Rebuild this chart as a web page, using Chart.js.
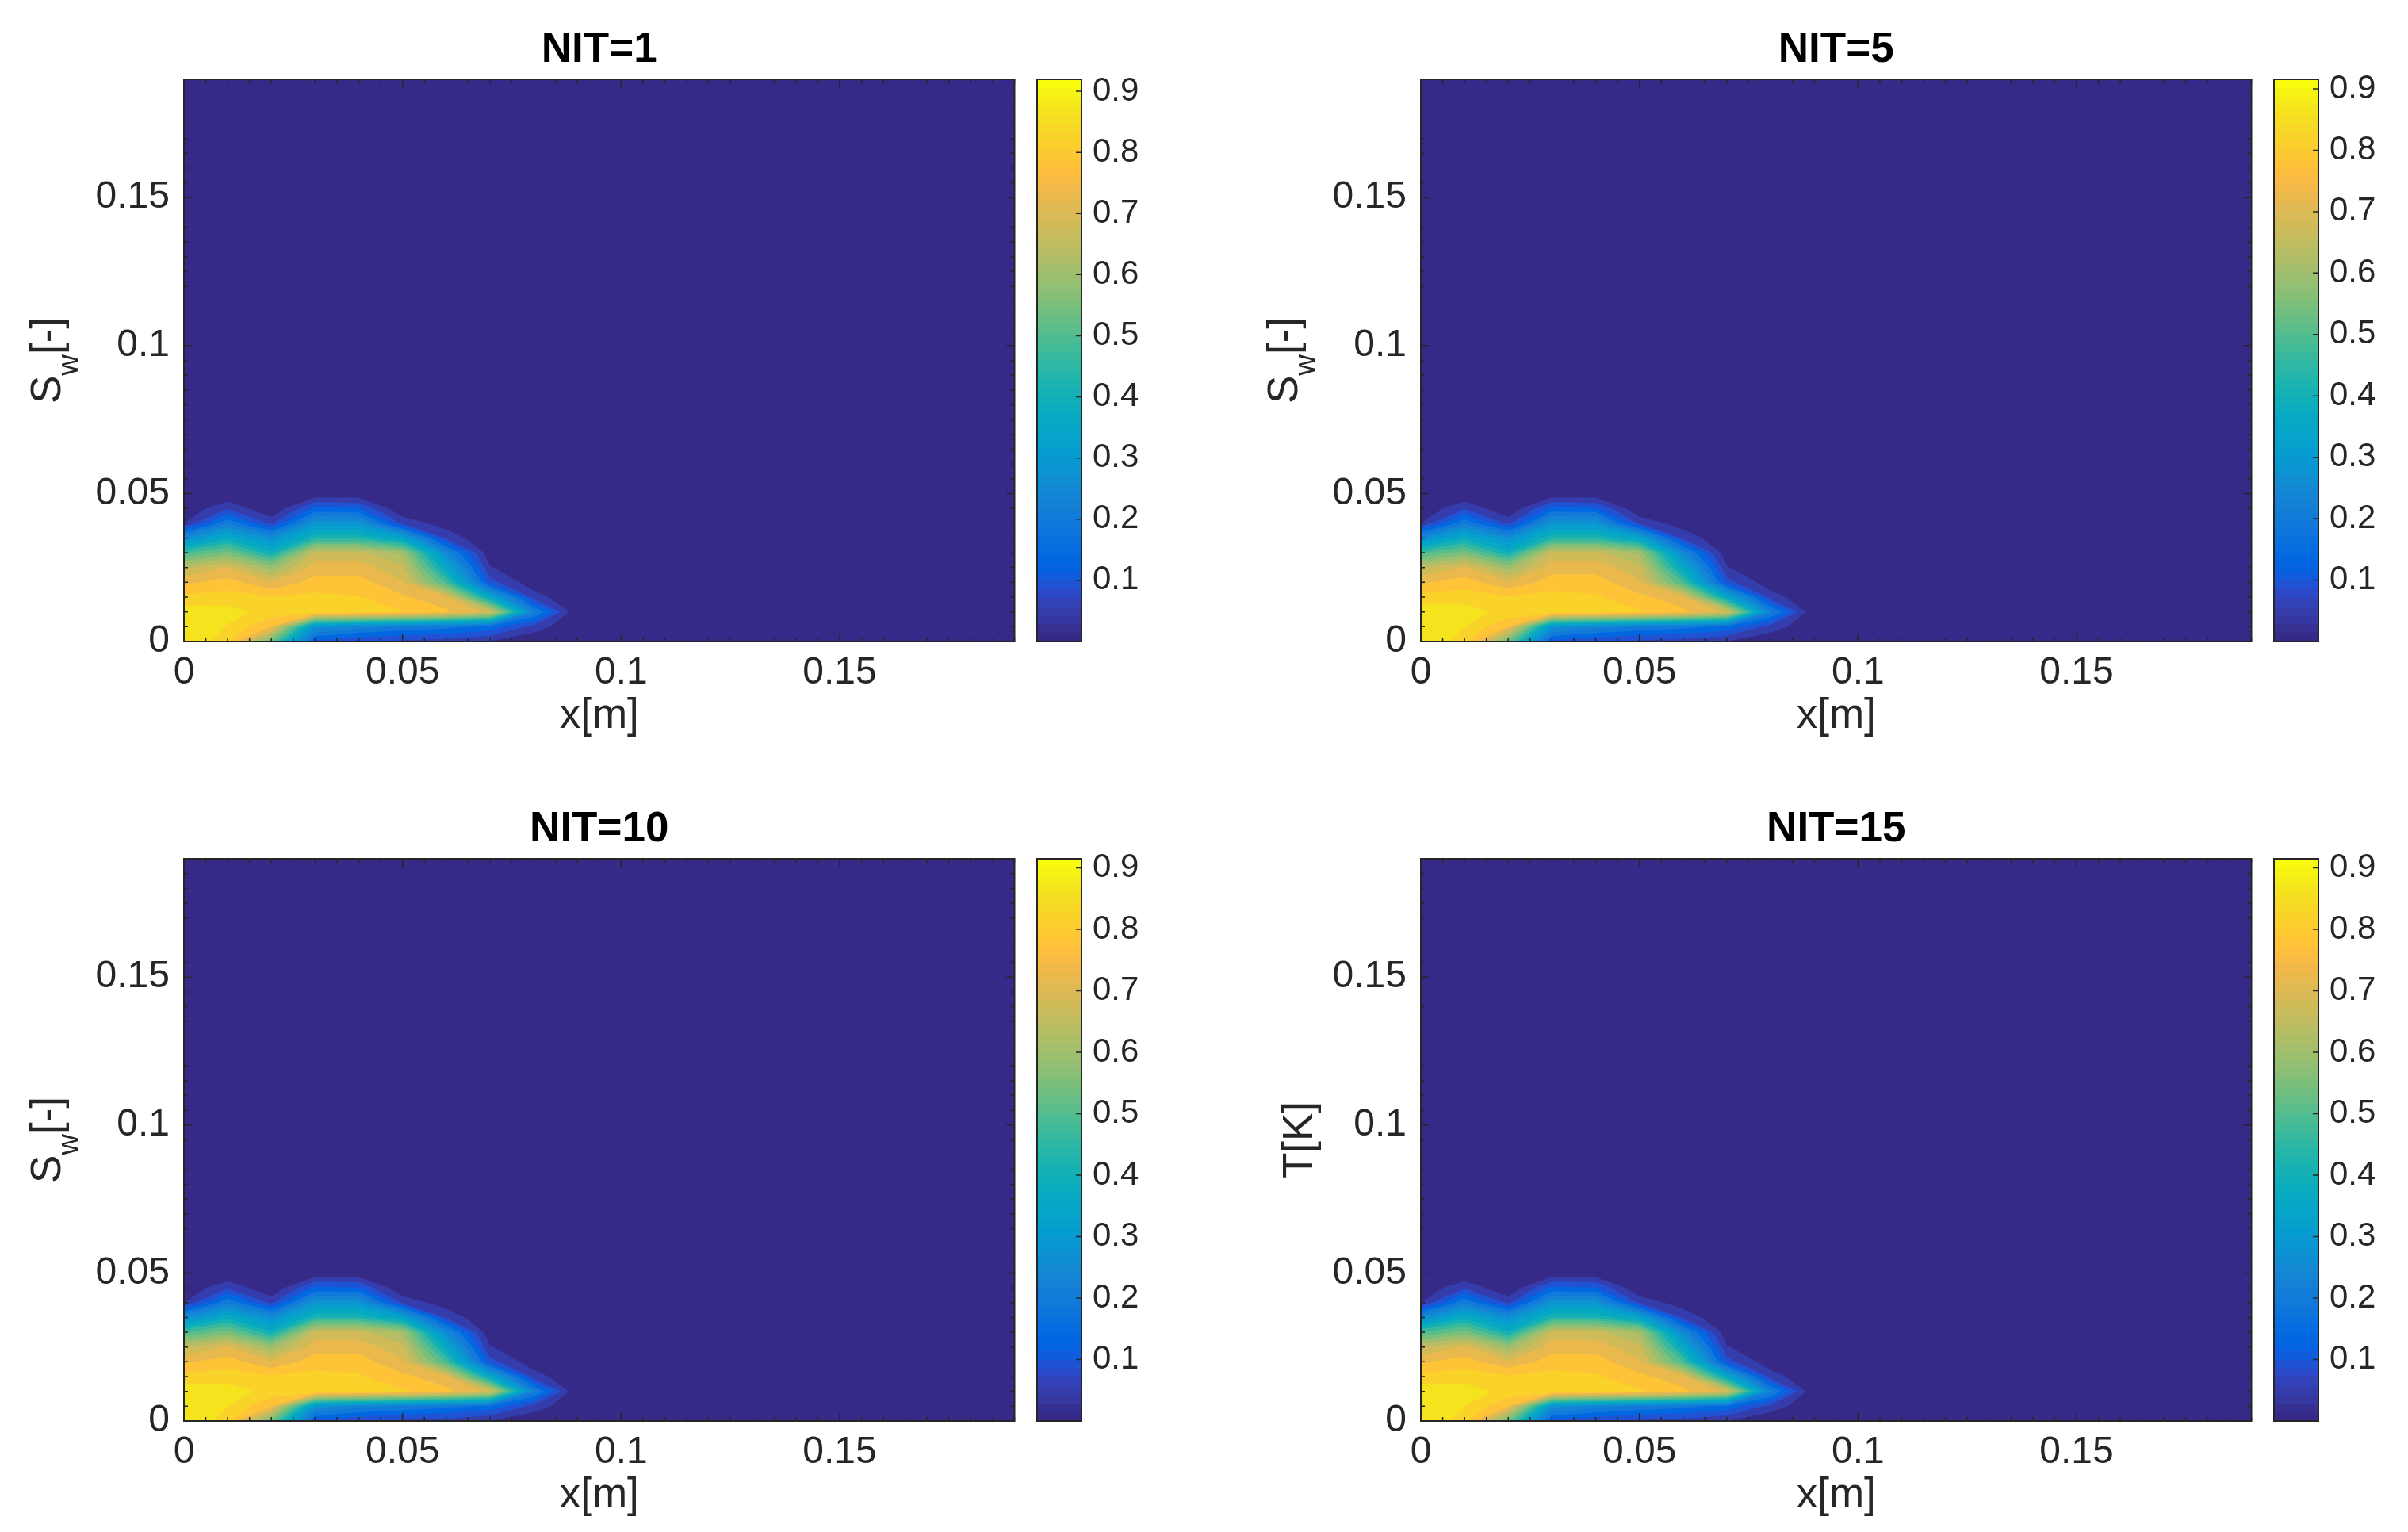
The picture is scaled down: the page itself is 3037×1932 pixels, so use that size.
<!DOCTYPE html>
<html><head><meta charset="utf-8">
<style>
html,body{margin:0;padding:0;background:#fff;width:3037px;height:1932px;overflow:hidden}
canvas{position:absolute;display:block;filter:blur(0.6px)}
</style>
<script src="https://cdn.jsdelivr.net/npm/chart.js@4/dist/chart.umd.min.js"></script>
</head><body>
<script>
// ---- data ----
const panelTitles = ['NIT=1','NIT=5','NIT=10','NIT=15'];
const xAxisTitle = 'x[m]';
const yAxisTitles = [
  [['S',0],['w',1],['[-]',0]],
  [['S',0],['w',1],['[-]',0]],
  [['S',0],['w',1],['[-]',0]],
  [['T[K]',0]]
];
const axisMax = 0.19;
const majorTicks = [0,0.05,0.1,0.15];
const majorTickLabels = ['0','0.05','0.1','0.15'];
const colorbarTicks = [0.1,0.2,0.3,0.4,0.5,0.6,0.7,0.8,0.9];
const colorbarTickLabels = ['0.1','0.2','0.3','0.4','0.5','0.6','0.7','0.8','0.9'];
const zMin = 0, panelZMax = [0.9195,0.9155,0.915,0.915], contourIntervals = 20;
const xNodes = [0,0.01,0.02,0.03,0.04,0.05,0.06,0.07,0.08,0.09,0.19];
const yNodes = [0,0.005,0.01,0.015,0.02,0.025,0.03,0.035,0.04,0.045,0.05,0.19];
const saturation = [
 [.918,.845,.55,.12,.09,.08,.07,.045,.004,0,0],
 [.915,.87,.78,.30,.25,.22,.20,.17,.075,0,0],
 [.90,.89,.855,.86,.85,.83,.79,.72,.24,0,0],
 [.84,.85,.83,.84,.83,.79,.75,.38,.07,0,0],
 [.77,.80,.74,.80,.80,.74,.50,.11,.015,0,0],
 [.68,.74,.62,.76,.76,.70,.38,.05,0,0,0],
 [.50,.57,.42,.70,.70,.63,.26,.01,0,0,0],
 [.27,.40,.28,.45,.45,.36,.08,0,0,0,0],
 [.046,.22,.08,.30,.30,.08,.02,0,0,0,0],
 [.005,.085,0,.15,.14,0,0,0,0,0,0],
 [0,0,0,.01,.01,0,0,0,0,0,0],
 [0,0,0,0,0,0,0,0,0,0,0]
];
const parula = [
[.2081,.1663,.5292],[.2116,.1898,.5777],[.2123,.2138,.6270],[.2081,.2386,.6771],[.1959,.2645,.7279],[.1707,.2919,.7792],[.1253,.3242,.8303],[.0591,.3598,.8683],
[.0117,.3875,.8820],[.0060,.4086,.8828],[.0165,.4266,.8786],[.0329,.4430,.8720],[.0498,.4586,.8641],[.0629,.4737,.8554],[.0723,.4887,.8467],[.0779,.5040,.8384],
[.0793,.5200,.8312],[.0749,.5375,.8263],[.0641,.5570,.8240],[.0488,.5772,.8228],[.0343,.5966,.8199],[.0265,.6137,.8135],[.0239,.6287,.8038],[.0231,.6418,.7913],
[.0228,.6535,.7768],[.0267,.6642,.7607],[.0384,.6743,.7436],[.0590,.6838,.7254],[.0843,.6928,.7062],[.1133,.7015,.6859],[.1453,.7098,.6646],[.1801,.7177,.6424],
[.2178,.7250,.6193],[.2586,.7317,.5954],[.3022,.7376,.5712],[.3482,.7424,.5473],[.3953,.7459,.5244],[.4420,.7481,.5033],[.4871,.7491,.4840],[.5300,.7491,.4661],
[.5709,.7485,.4494],[.6099,.7473,.4337],[.6473,.7456,.4188],[.6834,.7435,.4044],[.7184,.7411,.3905],[.7525,.7384,.3768],[.7858,.7356,.3633],[.8185,.7327,.3498],
[.8507,.7299,.3360],[.8824,.7274,.3217],[.9139,.7258,.3063],[.9450,.7261,.2886],[.9739,.7314,.2666],[.9938,.7455,.2403],[.9990,.7653,.2164],[.9955,.7861,.1967],
[.9880,.8066,.1794],[.9789,.8271,.1633],[.9697,.8481,.1475],[.9626,.8705,.1309],[.9589,.8949,.1132],[.9598,.9218,.0948],[.9661,.9514,.0755],[.9763,.9831,.0538]];

// ---- layout / style ----
const INK = '#262626', FONT = '"Liberation Sans", Arial, sans-serif';
const colOffsets = [0,1560], rowOffsets = [0,983];
const PW = 1296, PH = 960, AREA = {left:232,top:100,right:1279.5,bottom:809};
const CB = {left:1308,right:1364,canvasLeft:1300,w:170};
const css = c => `rgb(${Math.round(c[0]*255)},${Math.round(c[1]*255)},${Math.round(c[2]*255)})`;
const colorAt = (z,zMax) => css(parula[Math.max(0,Math.min(63,Math.round((z-zMin)/(zMax-zMin)*63)))]);

function addCanvas(l,t,w,h){
  const c=document.createElement('canvas');
  c.width=w;c.height=h;c.style.cssText=`left:${l}px;top:${t}px;width:${w}px;height:${h}px`;
  document.body.appendChild(c);return c;
}
// part of one grid cell where z >= lev (marching squares outline)
function clipCell(cell,lev){
  const out=[];
  for(let i=0;i<cell.length;i++){
    const a=cell[i],b=cell[(i+1)%cell.length];
    if(a[2]>=lev) out.push(a);
    if((a[2]>=lev)!==(b[2]>=lev)){
      const t=(lev-a[2])/(b[2]-a[2]);
      out.push([a[0]+t*(b[0]-a[0]),a[1]+t*(b[1]-a[1]),lev]);
    }
  }
  return out;
}
const contourPlugin = {
  id:'contourFill',
  beforeDatasetsDraw(chart,_,opts){
    const {ctx,chartArea:A,scales:{x,y}}=chart, zMax=opts.zMax;
    ctx.save();ctx.beginPath();ctx.rect(A.left,A.top,A.right-A.left,A.bottom-A.top);ctx.clip();
    ctx.fillStyle=colorAt(zMin,zMax);ctx.fillRect(A.left,A.top,A.right-A.left,A.bottom-A.top);
    for(let k=1;k<contourIntervals;k++){
      const lev=zMin+(zMax-zMin)*k/contourIntervals;
      const p=new Path2D();
      for(let j=0;j<yNodes.length-1;j++)for(let i=0;i<xNodes.length-1;i++){
        const cell=[[i,j],[i+1,j],[i+1,j+1],[i,j+1]].map(([a,b])=>[xNodes[a],yNodes[b],saturation[b][a]]);
        const poly=clipCell(cell,lev);
        if(poly.length<3)continue;
        poly.forEach((v,m)=>{
          const px=x.getPixelForValue(v[0]),py=y.getPixelForValue(v[1]);
          m?p.lineTo(px,py):p.moveTo(px,py);
        });
        p.closePath();
      }
      ctx.fillStyle=colorAt(lev,zMax);ctx.fill(p);
    }
    ctx.restore();
  }
};
const frameTicksPlugin = {
  id:'frameTicks',
  afterDatasetsDraw(chart){
    const {ctx,chartArea:A,scales:{x,y}}=chart;
    const isMajor=v=>majorTicks.some(m=>Math.abs(m-v)<1e-6);
    ctx.save();ctx.strokeStyle=INK;ctx.lineWidth=1.5;ctx.beginPath();
    x.ticks.forEach(t=>{const p=x.getPixelForValue(t.value),l=isMajor(t.value)?10:5;
      ctx.moveTo(p,A.bottom);ctx.lineTo(p,A.bottom-l);ctx.moveTo(p,A.top);ctx.lineTo(p,A.top+l);});
    y.ticks.forEach(t=>{const p=y.getPixelForValue(t.value),l=isMajor(t.value)?10:5;
      ctx.moveTo(A.left,p);ctx.lineTo(A.left+l,p);ctx.moveTo(A.right,p);ctx.lineTo(A.right-l,p);});
    ctx.stroke();
    ctx.lineWidth=2;ctx.strokeRect(A.left,A.top,A.right-A.left,A.bottom-A.top);
    ctx.restore();
  }
};
const yTitlePlugin = {
  id:'yTitle',
  afterDraw(chart,_,opts){
    const {ctx,chartArea:A}=chart, segs=opts.segments;
    const main='53px '+FONT, sub='37px '+FONT;
    ctx.save();ctx.fillStyle=INK;ctx.textBaseline='alphabetic';ctx.textAlign='left';
    let w=0;segs.forEach(([s,d])=>{ctx.font=d?sub:main;w+=ctx.measureText(s).width;});
    ctx.translate(opts.baseline,(A.top+A.bottom)/2);ctx.rotate(-Math.PI/2);
    let cx=-w/2;
    segs.forEach(([s,d])=>{ctx.font=d?sub:main;ctx.fillText(s,cx,d?22:0);cx+=ctx.measureText(s).width;});
    ctx.restore();
  }
};
const tickText = v => {const i=majorTicks.findIndex(m=>Math.abs(m-v)<1e-6);return i<0?'':majorTickLabels[i];};
function axisCommon(){return {
  type:'linear',min:0,max:axisMax,
  grid:{display:false,drawTicks:false},border:{display:false},
  ticks:{stepSize:0.005,autoSkip:false,maxRotation:0,color:INK,font:{family:FONT,size:48},callback:tickText}
};}

panelTitles.forEach((title,n)=>{
  const dx=colOffsets[n%2],dy=rowOffsets[n>>1],zMax=panelZMax[n];
  const nodes=[];yNodes.forEach(yv=>xNodes.forEach(xv=>nodes.push({x:xv,y:yv})));
  const xa=axisCommon(),ya=axisCommon();
  xa.ticks.padding=11;
  xa.title={display:true,text:xAxisTitle,color:INK,font:{family:FONT,size:53,lineHeight:'64px'},padding:{top:0,bottom:25}};
  xa.afterFit=s=>{s.height=PH-AREA.bottom;};
  ya.ticks.padding=18;
  ya.afterFit=s=>{s.width=AREA.left;};
  new Chart(addCanvas(dx,dy,PW,PH),{
    type:'scatter',
    data:{datasets:[{label:title,data:nodes,pointRadius:0,pointHoverRadius:0,showLine:false}]},
    options:{
      responsive:false,animation:false,events:[],
      layout:{padding:{left:0,top:0,right:PW-AREA.right,bottom:0}},
      scales:{x:xa,y:ya},
      plugins:{
        legend:{display:false},tooltip:{enabled:false},
        title:{display:true,text:title,fullSize:false,color:'#000',font:{family:FONT,size:53,weight:'bold',lineHeight:'64px'},padding:{top:31,bottom:5}},
        contourFill:{zMax},
        yTitle:{segments:yAxisTitles[n],baseline:n===3?95:76}
      }
    },
    plugins:[contourPlugin,frameTicksPlugin,yTitlePlugin]
  });
  // colour bar
  const bands=parula.map((c,i)=>({
    label:'c'+i,data:[[zMin+(zMax-zMin)*i/parula.length,zMax]],backgroundColor:css(c),borderWidth:0,
    barPercentage:1,categoryPercentage:1,grouped:false
  })).reverse();
  const cbFrame={id:'cbFrame',afterDatasetsDraw(chart){
    const {ctx,chartArea:A,scales:{y}}=chart;
    ctx.save();ctx.strokeStyle=INK;ctx.lineWidth=1.5;ctx.beginPath();
    y.ticks.forEach(t=>{const p=y.getPixelForValue(t.value);ctx.moveTo(A.right,p);ctx.lineTo(A.right-7,p);});
    ctx.stroke();ctx.lineWidth=2;ctx.strokeRect(A.left,A.top,A.right-A.left,A.bottom-A.top);ctx.restore();
  }};
  new Chart(addCanvas(dx+CB.canvasLeft,dy,CB.w,PH),{
    type:'bar',
    data:{labels:['colorbar'],datasets:bands},
    options:{
      responsive:false,animation:false,events:[],
      layout:{padding:{left:CB.left-CB.canvasLeft,top:AREA.top,right:0,bottom:PH-AREA.bottom}},
      scales:{
        x:{display:false,offset:true,grid:{display:false}},
        y:{type:'linear',position:'right',min:zMin,max:zMax,grid:{display:false,drawTicks:false},border:{display:false},
           afterBuildTicks:s=>{s.ticks=colorbarTicks.map(v=>({value:v}));},
           afterFit:s=>{s.width=CB.w-(CB.right-CB.canvasLeft);},
           ticks:{padding:14,autoSkip:false,color:INK,font:{family:FONT,size:42},
             callback:v=>{const i=colorbarTicks.findIndex(m=>Math.abs(m-v)<1e-6);return i<0?'':colorbarTickLabels[i];}}}
      },
      plugins:{legend:{display:false},tooltip:{enabled:false},title:{display:false}}
    },
    plugins:[cbFrame]
  });
});
</script>
</body></html>
